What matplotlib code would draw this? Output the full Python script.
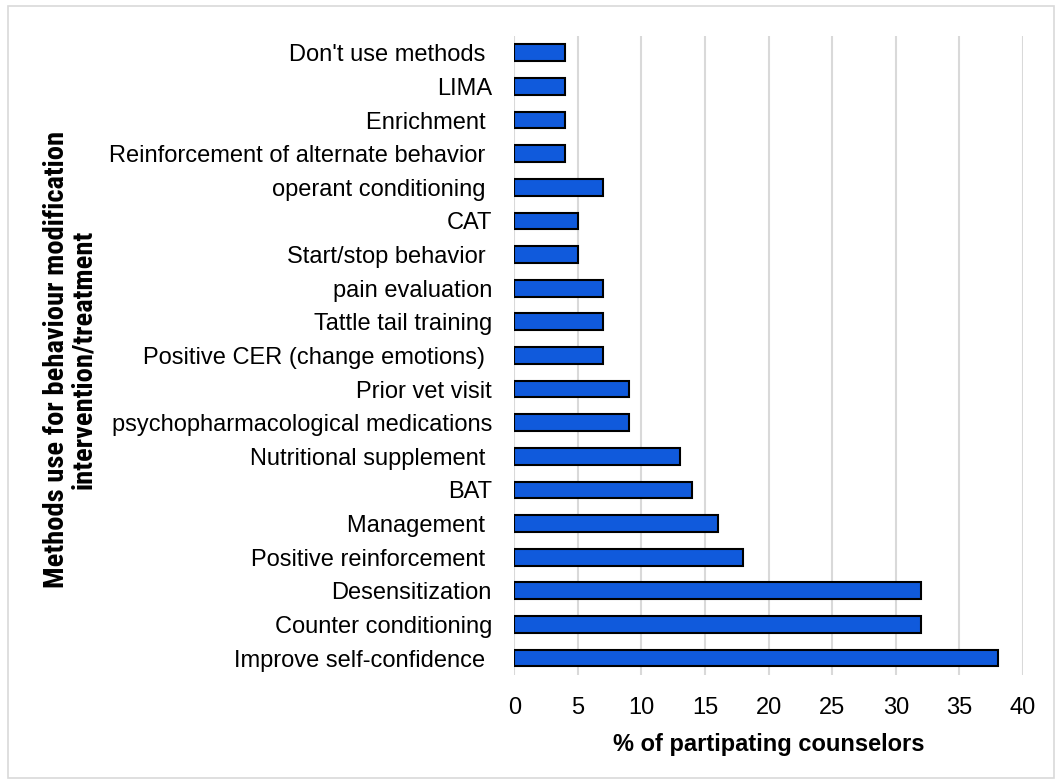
import matplotlib.pyplot as plt
from matplotlib.patches import Rectangle

# categories listed bottom -> top as they appear on the chart
methods = [
    'Improve self-confidence ',
    'Counter conditioning',
    'Desensitization',
    'Positive reinforcement ',
    'Management ',
    'BAT',
    'Nutritional supplement ',
    'psychopharmacological medications',
    'Prior vet visit',
    'Positive CER (change emotions) ',
    'Tattle tail training',
    'pain evaluation',
    'Start/stop behavior ',
    'CAT',
    'operant conditioning ',
    'Reinforcement of alternate behavior ',
    'Enrichment ',
    'LIMA',
    "Don't use methods ",
]
percent = [38, 32, 32, 18, 16, 14, 13, 9, 9, 7, 7, 7, 5, 5, 7, 4, 4, 4, 4]
x_ticks = [0, 5, 10, 15, 20, 25, 30, 35, 40]

plt.rcParams['font.family'] = ['Liberation Sans', 'DejaVu Sans']

fig = plt.figure(figsize=(10.58, 7.82), dpi=100)
ax = fig.add_axes([0.486, 0.137, 0.481, 0.817])

ypos = list(range(len(methods)))
ax.barh(ypos, percent, height=0.5, color='#105ADC', edgecolor='black',
        linewidth=1.5, zorder=3)

ax.set_xlim(0, 40)
ax.set_ylim(-0.5, len(methods) - 0.5)
ax.set_xticks(x_ticks)
ax.set_xticklabels([str(t) for t in x_ticks])
ax.set_yticks(ypos)
ax.set_yticklabels(methods)
ax.tick_params(axis='both', length=0, labelsize=17, colors='black')
ax.tick_params(axis='x', pad=16)
ax.tick_params(axis='y', pad=16)
ax.xaxis.grid(True, color='#d9d9d9', linewidth=1.5, zorder=0)
for s in ax.spines.values():
    s.set_visible(False)

ax.set_xlabel('% of partipating counselors', fontsize=17, fontweight='bold',
              labelpad=10)

fig.text(0.066, 0.54,
         'Methods use for behaviour modification\nintervention/treatment',
         rotation=90, ha='center', va='center', multialignment='center',
         fontsize=20.5, fontweight='bold', linespacing=1.0,
         family=['Liberation Sans Narrow', 'Roboto Condensed',
                 'Barlow Condensed', 'DejaVu Sans'])

# outer chart border
fig.patches.append(Rectangle((8 / 1058, 4 / 782), 1046 / 1058, 772 / 782,
                             transform=fig.transFigure, fill=False,
                             edgecolor='#d9d9d9', linewidth=1.2))

plt.savefig('out.png', dpi=100)
